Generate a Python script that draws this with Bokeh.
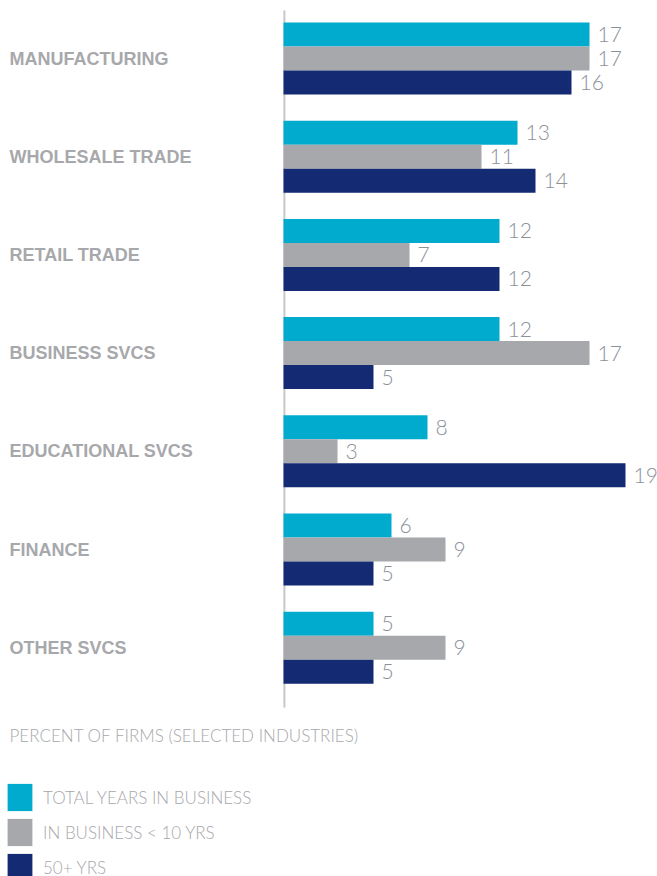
from bokeh.plotting import figure
from bokeh.models import Range1d, Label, Legend, LegendItem, ColumnDataSource
from bokeh.core.properties import value
from bokeh.embed import file_html
from bokeh.resources import INLINE

categories = ["MANUFACTURING", "WHOLESALE TRADE", "RETAIL TRADE", "BUSINESS SVCS",
              "EDUCATIONAL SVCS", "FINANCE", "OTHER SVCS"]
total_years = [17, 13, 12, 12, 8, 6, 5]
under_10 = [17, 11, 7, 17, 3, 9, 9]
over_50 = [16, 14, 12, 5, 19, 5, 5]
series_names = ["TOTAL YEARS IN BUSINESS", "IN BUSINESS < 10 YRS", "50+ YRS"]
colors = ["#00ABCD", "#A7A8AB", "#142A73"]
title_text = "PERCENT OF FIRMS (SELECTED INDUSTRIES)"

W, H = 657, 876
X0 = 283          # px of zero
PXU = 18.0        # px per unit
Y0 = 58           # px of first group centre
PERIOD = 98.2     # px per group
BAR = 24 / PERIOD

p = figure(width=W, height=H, output_backend="svg", toolbar_location=None,
           x_range=Range1d(-X0 / PXU, (W - X0) / PXU),
           y_range=Range1d((H - Y0) / PERIOD, -Y0 / PERIOD),
           min_border=0)
p.axis.visible = False
p.grid.visible = False
p.outline_line_color = None
p.background_fill_color = "white"
p.border_fill_color = "white"

n = len(categories)
idx = list(range(n))

# axis line
p.segment(x0=[0.05], x1=[0.05], y0=[-48 / PERIOD], y1=[(n - 1) + 0.61],
          line_color="#C8C8C8", line_width=2)

renderers = []
for k, (vals, col) in enumerate(zip([total_years, under_10, over_50], colors)):
    ys = [i + (k - 1) * BAR for i in idx]
    src = ColumnDataSource(dict(y=ys, right=vals, lab=[str(v) for v in vals]))
    r = p.hbar(y="y", right="right", left=0, height=BAR, source=src,
               fill_color=col, line_color=None)
    renderers.append(r)
    p.text(x="right", y="y", text="lab", source=src, x_offset=8,
           text_align="left", text_baseline="middle",
           text_font=value("Lato Light"), text_font_size="21px",
           text_color="#8A9199")

# category labels
csrc = ColumnDataSource(dict(x=[-X0 / PXU] * n, y=idx, t=categories))
p.text(x="x", y="y", text="t", source=csrc, x_offset=9,
       text_align="left", text_baseline="middle",
       text_font=value("Liberation Sans"), text_font_style="bold",
       text_font_size="18px", text_color="#A7A8AB")

p.add_layout(Label(x=9, y=H - 735, x_units="screen", y_units="screen",
                   text=title_text, text_baseline="middle",
                   text_font="Lato Light", text_font_size="17px",
                   text_color="#A7A8AB"))

legend = Legend(items=[LegendItem(label=nm, renderers=[r]) for nm, r in zip(series_names, renderers)],
                location=(4, -8), orientation="vertical",
                glyph_width=31, glyph_height=34, spacing=1, label_standoff=8,
                padding=0, margin=0, border_line_color=None,
                background_fill_alpha=0,
                label_text_font="Lato Light", label_text_font_size="17px",
                label_text_color="#A7A8AB", label_height=34)
p.add_layout(legend)

open("out.html", "w").write(file_html(p, INLINE))
